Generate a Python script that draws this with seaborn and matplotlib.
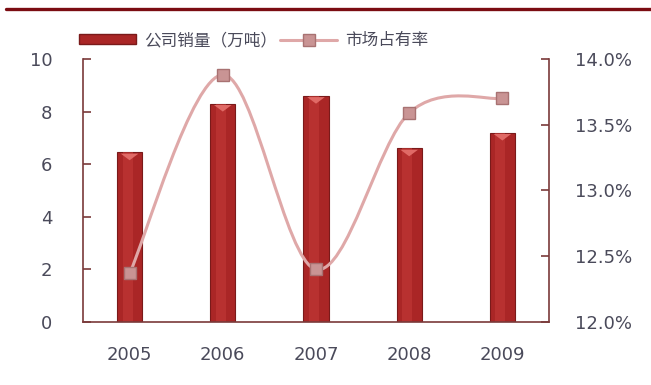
import matplotlib
matplotlib.use("Agg")
import matplotlib.pyplot as plt
from matplotlib.path import Path
from matplotlib.patches import PathPatch, Patch, Polygon
from matplotlib.lines import Line2D
from matplotlib.ticker import FuncFormatter
import numpy as np
import pandas as pd
import seaborn as sns

years = ["2005", "2006", "2007", "2008", "2009"]
sales = [6.45, 8.3, 8.6, 6.6, 7.2]          # 公司销量（万吨）
share = [12.37, 13.88, 12.40, 13.59, 13.70]  # 市场占有率 (%)
bar_label = "公司销量（万吨）"
line_label = "市场占有率"

sns.set_theme(style="white")
plt.rcParams["font.family"] = ["DejaVu Sans", "Noto Sans CJK SC"]

fig = plt.figure(figsize=(6.51, 3.85), dpi=100)
fig.patch.set_facecolor("white")
ax = fig.add_axes([0.1275, 0.1636, 0.7158, 0.6832])
ax.set_facecolor("white")

df = pd.DataFrame({"year": years, "sales": sales})
sns.barplot(data=df, x="year", y="sales", ax=ax, color="#aa2626",
            width=0.27, saturation=1, edgecolor="#7a1a1a", linewidth=0.8)

# shading on each bar: lighter centre strip and a bevel triangle on top
for p in list(ax.patches):
    x0, w, h = p.get_x(), p.get_width(), p.get_height()
    z = p.get_zorder()
    ax.add_patch(plt.Rectangle((x0 + w * 0.22, 0), w * 0.4, h,
                               color="#c23a38", alpha=0.6, lw=0, zorder=z + 0.1))
    ax.add_patch(Polygon([(x0 + w * 0.15, h - 0.05), (x0 + w * 0.85, h - 0.05),
                          (x0 + w * 0.5, h - 0.3)], closed=True,
                         color="#e06a66", lw=0, zorder=z + 0.2))

ax.set_xlim(-0.5, 4.5)
ax.set_ylim(0, 10)
ax.set_yticks([0, 2, 4, 6, 8, 10])
ax.set_xlabel("")
ax.set_ylabel("")

spine_color = "#7a3a3a"
for side in ["left", "bottom"]:
    ax.spines[side].set_color(spine_color)
    ax.spines[side].set_linewidth(1.2)
ax.spines["top"].set_visible(False)
ax.spines["right"].set_visible(False)
ax.tick_params(axis="y", direction="in", length=6, width=1.2, color=spine_color,
               labelsize=13, labelcolor="#4a4a5a", pad=22, left=True)
ax.tick_params(axis="x", length=0, labelsize=13, labelcolor="#4a4a5a", pad=17)

ax2 = ax.twinx()
ax2.set_ylim(12.0, 14.0)
ax2.set_yticks([12.0, 12.5, 13.0, 13.5, 14.0])
ax2.yaxis.set_major_formatter(FuncFormatter(lambda v, _: f"{v:.1f}%"))
for side in ["left", "bottom", "top"]:
    ax2.spines[side].set_visible(False)
ax2.spines["right"].set_color(spine_color)
ax2.spines["right"].set_linewidth(1.2)
ax2.tick_params(axis="y", direction="in", length=6, width=1.2, color=spine_color,
                labelsize=13, labelcolor="#4a4a5a", pad=19, right=True)

# smoothed line through the share values (Catmull-Rom as cubic Bezier)
xs = np.arange(len(share), dtype=float)
ys = np.array(share, dtype=float)
pts = np.column_stack([xs, ys])
ext = np.vstack([pts[0], pts, pts[-1]])
verts = [tuple(pts[0])]
codes = [Path.MOVETO]
for i in range(len(pts) - 1):
    p0, p1, p2, p3 = ext[i], ext[i + 1], ext[i + 2], ext[i + 3]
    c1 = p1 + (p2 - p0) / 6.0
    c2 = p2 - (p3 - p1) / 6.0
    verts += [tuple(c1), tuple(c2), tuple(p2)]
    codes += [Path.CURVE4] * 3
line_color = "#dfa8a8"
ax2.add_patch(PathPatch(Path(verts, codes), facecolor="none",
                        edgecolor=line_color, lw=2.2, zorder=3))
ax2.plot(xs, ys, "s", ms=8, mfc="#c99494", mec="#a87272", mew=1, zorder=4)

# legend above the plot
handles = [Patch(facecolor="#aa2626", edgecolor="#7a1a1a"),
           Line2D([0], [0], color=line_color, lw=2.2, marker="s", ms=8,
                  mfc="#c99494", mec="#a87272")]
fig.legend(handles, [bar_label, line_label], loc="center", ncol=2,
           bbox_to_anchor=(0.39, 0.895), frameon=False,
           prop={"family": ["Noto Sans CJK SC", "DejaVu Sans"], "size": 12},
           handlelength=3.4, handleheight=0.5, columnspacing=0.2, handletextpad=0.5,
           labelcolor="#4a4a5a")

# top rule
fig.add_artist(Line2D([6 / 651, 1.0], [1 - 9 / 385, 1 - 9 / 385],
                      color="#7b0c12", lw=2.4, transform=fig.transFigure))

fig.savefig("out.png", dpi=100, facecolor="white")
